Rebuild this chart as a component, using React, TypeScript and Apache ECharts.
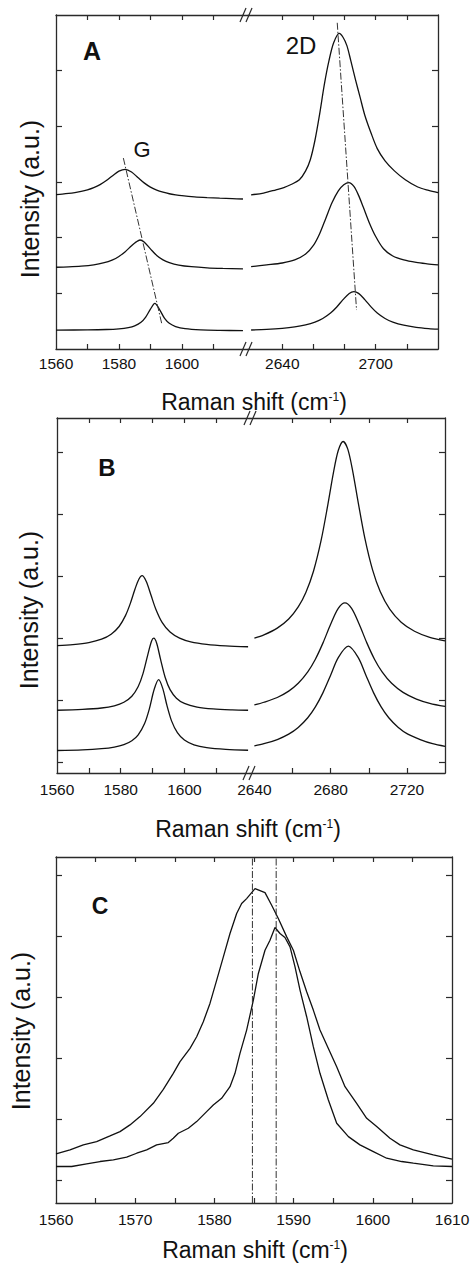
import React, { useEffect, useRef } from "react";
import * as echarts from "echarts";

const FONT = '"Liberation Sans", Arial, Helvetica, sans-serif';

// ---------- Panel A (Raman shift cm-1, intensity a.u.) ----------
const aG1 = [[1560,2.774],[1562,2.783],[1564,2.795],[1566,2.811],[1568,2.831],[1570,2.86],[1572,2.9],[1574,2.954],[1576,3.027],[1578,3.114],[1580,3.194],[1582,3.227],[1584,3.18],[1586,3.081],[1588,2.984],[1590,2.908],[1592,2.854],[1594,2.817],[1596,2.789],[1598,2.77],[1600,2.755],[1604,2.734],[1608,2.72],[1612,2.709],[1616,2.701],[1619.4,2.695]];
const aG2 = [[1560,1.469],[1564,1.477],[1568,1.49],[1572,1.513],[1575,1.545],[1578,1.601],[1580,1.663],[1582,1.749],[1584,1.855],[1585.5,1.925],[1586.7,1.958],[1588,1.924],[1590,1.799],[1592,1.681],[1594,1.602],[1596,1.552],[1599,1.508],[1603,1.478],[1608,1.458],[1613,1.448],[1619.4,1.44]];
const aG3 = [[1560,0.34],[1570,0.343],[1576,0.35],[1580,0.363],[1583,0.385],[1585,0.416],[1587,0.48],[1588.5,0.574],[1590,0.716],[1591.4,0.82],[1593,0.699],[1594.5,0.549],[1596,0.461],[1598,0.404],[1601,0.366],[1606,0.344],[1612,0.335],[1619.4,0.33]];
const a2D1 = [[2620,2.77],[2628,2.8],[2636,2.86],[2641,2.9],[2646,2.96],[2651,3.04],[2655,3.2],[2658,3.4],[2661,3.75],[2664,4.22],[2667,4.75],[2670,5.18],[2673,5.5],[2676.6,5.67],[2679,5.6],[2681.5,5.45],[2684,5.18],[2687,4.84],[2690,4.52],[2693,4.2],[2697,3.88],[2701,3.6],[2706,3.38],[2712,3.2],[2719,3.04],[2727,2.91],[2734,2.85],[2740,2.81]];
const a2D2 = [[2620,1.48],[2630,1.511],[2640,1.545],[2648,1.6],[2655,1.705],[2660,1.86],[2664,2.07],[2668,2.35],[2672,2.63],[2676,2.84],[2679.5,2.95],[2682.8,2.99],[2686,2.92],[2689,2.76],[2692,2.55],[2696,2.26],[2700,2.02],[2705,1.8],[2711,1.67],[2718,1.6],[2726,1.555],[2733,1.53],[2740,1.51]];
const a2D3 = [[2620,0.341],[2630,0.352],[2640,0.371],[2648,0.396],[2655,0.432],[2661,0.482],[2666,0.547],[2671,0.645],[2675,0.755],[2679,0.886],[2683,0.998],[2686,1.03],[2689,0.999],[2693,0.887],[2697,0.756],[2701,0.646],[2706,0.548],[2711,0.483],[2718,0.427],[2726,0.39],[2734,0.367],[2740,0.356]];
const aGuideG = [[1581.4,3.43],[1593.7,0.43]];
const aGuide2D = [[2675.3,5.86],[2687.7,0.7]];

// ---------- Panel B ----------
const bG1 = [[1560,1.88],[1565,1.897],[1570,1.929],[1574,1.984],[1577,2.065],[1579.5,2.189],[1581.5,2.365],[1583,2.559],[1584.5,2.795],[1585.7,2.953],[1586.7,3.01],[1588,2.92],[1589.5,2.698],[1591,2.473],[1593,2.256],[1595.5,2.099],[1598.5,2.0],[1602,1.94],[1607,1.899],[1613,1.875],[1620,1.861]];
const b2D1 = [[2640,2.0],[2645,2.053],[2652,2.162],[2658,2.31],[2663,2.506],[2667,2.74],[2671,3.083],[2675,3.58],[2678.5,4.151],[2681.5,4.681],[2684,5.034],[2686.6,5.18],[2689,5.056],[2691.5,4.714],[2694.5,4.188],[2698,3.609],[2702,3.104],[2706,2.755],[2711,2.469],[2717,2.258],[2724,2.112],[2732,2.013],[2740,1.957]];
const bG2 = [[1560,0.835],[1568,0.848],[1574,0.871],[1578,0.907],[1581,0.964],[1583.5,1.061],[1585.5,1.219],[1587,1.427],[1588.5,1.731],[1589.7,1.955],[1590.4,2.0],[1591.3,1.918],[1592.5,1.66],[1594,1.359],[1595.5,1.168],[1597.5,1.03],[1600,0.945],[1604,0.886],[1609,0.856],[1615,0.841],[1620,0.835]];
const b2D2 = [[2640,0.92],[2645,0.964],[2652,1.041],[2658,1.144],[2663,1.27],[2668,1.455],[2672,1.66],[2676,1.924],[2680,2.225],[2684,2.482],[2687.5,2.57],[2691,2.482],[2695,2.225],[2699,1.924],[2703,1.66],[2707,1.455],[2712,1.27],[2718,1.124],[2725,1.016],[2732,0.947],[2740,0.896]];
const bG3 = [[1560,0.184],[1568,0.194],[1574,0.213],[1578,0.239],[1581,0.278],[1583.5,0.342],[1585.5,0.437],[1587.5,0.62],[1589,0.858],[1590.5,1.17],[1591.9,1.33],[1593.2,1.189],[1594.5,0.917],[1596,0.659],[1597.8,0.472],[1600,0.352],[1603,0.275],[1607,0.229],[1613,0.201],[1620,0.188]];
const b2D3 = [[2640,0.26],[2645,0.293],[2652,0.361],[2658,0.448],[2663,0.556],[2668,0.713],[2672,0.888],[2676,1.12],[2680,1.401],[2684,1.685],[2689.3,1.87],[2694.5,1.685],[2698.5,1.401],[2702.5,1.12],[2706.5,0.888],[2710.5,0.713],[2715.5,0.556],[2720.5,0.448],[2727,0.361],[2733.5,0.293],[2740,0.25]];

// ---------- Panel C ----------
const cWide = [[1560,0.426],[1561.77,0.492],[1563.45,0.574],[1565.13,0.628],[1566.82,0.721],[1568.08,0.792],[1569.34,0.902],[1570.61,1.038],[1572.29,1.257],[1573.55,1.486],[1574.81,1.749],[1575.66,1.94],[1576.92,2.158],[1577.76,2.35],[1578.6,2.596],[1579.44,2.896],[1580.29,3.279],[1581.13,3.661],[1581.97,4.044],[1582.81,4.372],[1583.44,4.536],[1584.07,4.617],[1585.13,4.781],[1586.39,4.716],[1587.23,4.508],[1588.07,4.29],[1589.13,3.989],[1589.97,3.77],[1590.81,3.415],[1591.65,3.087],[1592.49,2.787],[1593.33,2.459],[1594.39,2.158],[1595.44,1.858],[1596.49,1.53],[1597.96,1.257],[1599.23,1.011],[1600.49,0.874],[1602.17,0.683],[1603.43,0.574],[1605.12,0.492],[1607.64,0.41],[1610,0.339]];
const cNarrow = [[1560,0.219],[1561.98,0.219],[1563.87,0.262],[1565.56,0.301],[1567.24,0.328],[1568.92,0.372],[1570.19,0.437],[1571.45,0.492],[1572.71,0.574],[1574.18,0.612],[1574.81,0.683],[1575.45,0.765],[1576.71,0.847],[1577.76,0.956],[1579.02,1.12],[1579.86,1.23],[1580.91,1.339],[1581.97,1.53],[1582.6,1.749],[1583.23,2.077],[1584.07,2.459],[1584.92,2.951],[1585.55,3.388],[1586.39,3.77],[1587.02,3.934],[1587.65,4.142],[1588.28,4.044],[1588.91,3.978],[1589.55,3.825],[1590.18,3.497],[1590.81,3.115],[1591.65,2.678],[1592.49,2.186],[1593.33,1.749],[1594.39,1.311],[1595.44,0.929],[1596.92,0.71],[1598.38,0.574],[1600.07,0.464],[1601.75,0.355],[1603.64,0.301],[1605.12,0.273],[1607.64,0.23],[1610,0.219]];
const cGuideL = [[1584.8,-0.38],[1584.8,5.3]];
const cGuideR = [[1587.8,-0.38],[1587.8,5.3]];

// ---------- Tick values ----------
const aLeftTicks = [1570,1580,1590,1600,1610];
const aLeftLabels = [1560,1580,1600];
const aRightTicks = [2640,2660,2680,2700,2720];
const aRightLabels = [2640,2700];
const bLeftTicks = [1570,1580,1590,1600,1610];
const bLeftLabels = [1560,1580,1600];
const bRightTicks = [2660,2680,2700,2720];
const bRightLabels = [2640,2680,2720];
const cTicks = [1565,1570,1575,1580,1585,1590,1595,1600,1605];
const cLabels = [1560,1570,1580,1590,1600,1610];
const aYTicks = [1,2,3,4,5];
const bYTicks = [0,1,2,3,4,5];
const cYTicks = [0,1,2,3,4,5];

const AX = "#2a2a2a";
const INK = "#111";

function buildOption() {
  const grids: any[] = [
    { left: 56, top: 15, width: 192, height: 334 },
    { left: 248, top: 15, width: 190, height: 334 },
    { left: 57, top: 418, width: 193, height: 355 },
    { left: 250, top: 418, width: 195, height: 355 },
    { left: 56, top: 857, width: 396, height: 346 },
  ].map((g) => ({ ...g, containLabel: false, outerBoundsMode: "none", show: false }));

  const xDefs = [
    { min: 1560, max: 1621, ticks: aLeftTicks, labels: aLeftLabels, margin: 6 },
    { min: 2618, max: 2740, ticks: aRightTicks, labels: aRightLabels, margin: 6 },
    { min: 1560, max: 1620.6, ticks: bLeftTicks, labels: bLeftLabels, margin: 8 },
    { min: 2637.7, max: 2740, ticks: bRightTicks, labels: bRightLabels, margin: 8 },
    { min: 1560, max: 1610, ticks: cTicks, labels: cLabels, margin: 8 },
  ];
  const xAxes: any[] = [];
  xDefs.forEach((d, g) => {
    ["bottom", "top"].forEach((pos) => {
      xAxes.push({
        type: "value",
        gridIndex: g,
        position: pos,
        min: d.min,
        max: d.max,
        axisLine: { show: true, onZero: false, lineStyle: { color: AX, width: 1.3 } },
        axisTick: { show: true, inside: true, length: 5, customValues: d.ticks, lineStyle: { color: AX, width: 1.2 } },
        axisLabel: {
          show: pos === "bottom",
          customValues: d.labels,
          margin: d.margin,
          fontSize: 15.5,
          color: INK,
          fontFamily: FONT,
          formatter: (v: number) => String(Math.round(v)),
        },
        splitLine: { show: false },
      });
    });
  });

  const yDefs = [
    { g: 0, pos: "left", min: 0, max: 6, ticks: aYTicks },
    { g: 1, pos: "right", min: 0, max: 6, ticks: aYTicks },
    { g: 2, pos: "left", min: -0.18, max: 5.56, ticks: bYTicks },
    { g: 3, pos: "right", min: -0.18, max: 5.56, ticks: bYTicks },
    { g: 4, pos: "left", min: -0.38, max: 5.3, ticks: cYTicks },
    { g: 4, pos: "right", min: -0.38, max: 5.3, ticks: cYTicks },
  ];
  const yAxes = yDefs.map((d) => ({
    type: "value",
    gridIndex: d.g,
    position: d.pos,
    min: d.min,
    max: d.max,
    axisLine: { show: true, onZero: false, lineStyle: { color: AX, width: 1.3 } },
    axisTick: { show: true, inside: true, length: 6, customValues: d.ticks, lineStyle: { color: AX, width: 1.2 } },
    axisLabel: { show: false },
    splitLine: { show: false },
  }));

  const curve = (data: number[][], xi: number, yi: number, smooth: any) => ({
    type: "line",
    data,
    xAxisIndex: xi,
    yAxisIndex: yi,
    symbol: "none",
    smooth,
    silent: true,
    lineStyle: { color: INK, width: 1.3 },
  });
  const guide = (data: number[][], xi: number, yi: number) => ({
    type: "line",
    data,
    xAxisIndex: xi,
    yAxisIndex: yi,
    symbol: "none",
    silent: true,
    lineStyle: { color: "#333", width: 1, type: [7, 2, 1.5, 2] },
  });

  const series = [
    curve(aG1, 0, 0, 0.3), curve(aG2, 0, 0, 0.3), curve(aG3, 0, 0, 0.3),
    curve(a2D1, 2, 1, 0.3), curve(a2D2, 2, 1, 0.3), curve(a2D3, 2, 1, 0.3),
    guide(aGuideG, 0, 0), guide(aGuide2D, 2, 1),
    curve(bG1, 4, 2, 0.3), curve(bG2, 4, 2, 0.3), curve(bG3, 4, 2, 0.3),
    curve(b2D1, 6, 3, 0.3), curve(b2D2, 6, 3, 0.3), curve(b2D3, 6, 3, 0.3),
    curve(cWide, 8, 4, false), curve(cNarrow, 8, 4, false),
    guide(cGuideL, 8, 4), guide(cGuideR, 8, 4),
  ];

  const txt = (text: string, x: number, y: number, size: number, bold = false, rot = 0) => ({
    type: "text",
    x,
    y,
    rotation: rot,
    silent: true,
    style: {
      text,
      fill: INK,
      fontSize: size,
      fontFamily: FONT,
      fontWeight: bold ? "bold" : "normal",
      align: "center",
      verticalAlign: "middle",
      textAlign: "center",
      textVerticalAlign: "middle",
    },
  });
  const xTitle = (x: number, y: number) => ({
    type: "text",
    x,
    y,
    silent: true,
    style: {
      text: "{n|Raman shift (cm}{s|-1}{n|)}",
      rich: {
        n: { fontSize: 23, fontFamily: FONT, fill: INK, color: INK },
        s: { fontSize: 12, fontFamily: FONT, fill: INK, color: INK, verticalAlign: "top" },
      },
      fill: INK,
      align: "center",
      verticalAlign: "middle",
      textAlign: "center",
      textVerticalAlign: "middle",
    },
  });
  const brk = (cx: number, cy: number) =>
    [-3, 3].map((o) => ({
      type: "line",
      silent: true,
      shape: { x1: cx + o - 3, y1: cy + 7, x2: cx + o + 3, y2: cy - 7 },
      style: { stroke: AX, lineWidth: 1.2 },
    }));

  const graphic = [
    txt("A", 92, 51, 25, true),
    txt("2D", 301, 45, 24),
    txt("G", 142, 149, 22),
    txt("B", 107, 467, 24, true),
    txt("C", 100, 906, 23, true),
    txt("Intensity (a.u.)", 30, 199, 25, false, Math.PI / 2),
    txt("Intensity (a.u.)", 29, 610, 25, false, Math.PI / 2),
    txt("Intensity (a.u.)", 21, 1031, 25, false, Math.PI / 2),
    xTitle(254, 402),
    xTitle(248, 829),
    xTitle(255, 1250),
    ...brk(246, 15),
    ...brk(246, 349),
    ...brk(250, 418),
    ...brk(249, 773),
  ];

  return {
    animation: false,
    backgroundColor: "#fff",
    grid: grids,
    xAxis: xAxes,
    yAxis: yAxes,
    series,
    graphic,
  };
}

export default function App() {
  const ref = useRef<HTMLDivElement>(null);
  useEffect(() => {
    if (!ref.current) return;
    const chart = echarts.init(ref.current, undefined, { renderer: "svg" });
    chart.setOption(buildOption() as any);
    return () => chart.dispose();
  }, []);
  return (
    <div
      ref={ref}
      style={{ position: "absolute", left: 0, top: 0, width: 472, height: 1274, background: "#fff" }}
    />
  );
}
